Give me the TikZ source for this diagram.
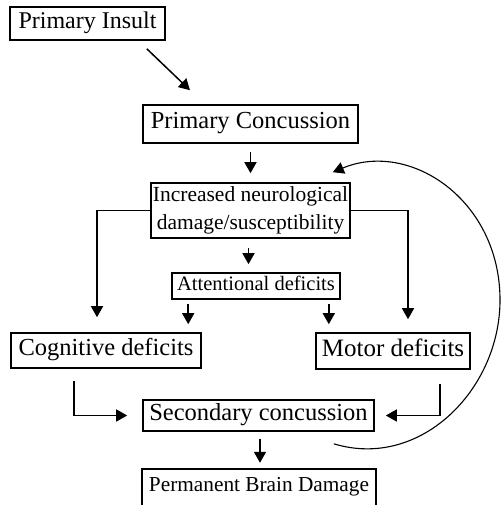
\documentclass[tikz,border=0pt]{standalone}
\usepackage{fontspec}
\setmainfont{Liberation Serif}
\usetikzlibrary{arrows.meta,calc}
\begin{document}
\begin{tikzpicture}[x=1pt,y=-1pt,
  box/.style={draw,line width=1.6pt,inner sep=0pt,align=center},
  arr/.style={line width=1.5pt,-{Triangle[length=11pt,width=12pt]}},
  fs/.style={font=\fontsize{#1}{#1}\selectfont}]
\useasboundingbox[fill=white] (0,0) rectangle (501,505);
\clip (0,0) rectangle (501,505);
\node[box,fs=24,minimum width=155pt,minimum height=33pt] (insult) at (87.5,23.5) {\strut Primary Insult};
\node[box,fs=24.5,minimum width=215pt,minimum height=38pt] (pconc) at (250.5,124) {\strut Primary Concussion};
\node[box,font=\fontsize{21.5}{28}\selectfont,
  minimum width=199pt,minimum height=55pt] (incr) at (250.5,210.5) {Increased neurological\\damage/susceptibility};
\node[box,fs=20.5,minimum width=168pt,minimum height=26pt] (attn) at (256,286) {\strut Attentional deficits};
\node[box,fs=24.5,minimum width=190pt,minimum height=35pt] (cog) at (106,350.5) {\strut Cognitive deficits};
\node[box,fs=25,minimum width=154pt,minimum height=36pt] (motor) at (393,351) {\strut Motor deficits};
\node[box,fs=24.5,minimum width=231pt,minimum height=31pt] (sec) at (258.5,415.5) {\strut Secondary concussion};
\node[inner sep=0pt,fs=21.3,minimum width=234pt,minimum height=36pt] (perm) at (259,487) {\strut Permanent Brain Damage};
\draw[line width=1.6pt] (perm.south west) -- (perm.north west) -- (perm.north east) -- (perm.south east);
% connectors
\draw[arr] ([shift={(-19,8)}]insult.south east) -- ([shift={(-60.5,-14)}]pconc.north);
\draw[arr,shorten <=8pt,shorten >=9pt] (pconc.south) -- (pconc.south |- incr.north);
\draw[arr] (incr.west) -| ([shift={(-9,-15)}]cog.north);
\draw[arr] (incr.east) -| ([shift={(15,-13)}]motor.north);
\draw[arr,shorten <=9pt,shorten >=8pt] ([xshift=-2pt]incr.south) -- ([xshift=-2pt]incr.south |- attn.north);
\draw[arr] ([shift={(17,4)}]attn.south west) -- ([shift={(17,-8)}]attn.south west |- cog.north);
\draw[arr] ([shift={(-12,4)}]attn.south east) -- ([shift={(-12,-8)}]attn.south east |- motor.north);
\draw[arr,shorten >=15pt] ([shift={(-32,12)}]cog.south) |- (sec.west);
\draw[arr,shorten >=11pt] ([shift={(-31,14)}]motor.south east) |- (sec.east);
\draw[arr,shorten <=7pt,shorten >=6pt] ([xshift=1.5pt]sec.south) -- ([xshift=1.5pt]sec.south |- perm.north);
\draw[arr,line width=1.1pt] ([shift={(-41,12)}]sec.south east) .. controls (420,470) and (500,390) .. (500,300)
  .. controls (500,200) and (410,140) .. ([shift={(-18,-10)}]incr.north east);
\end{tikzpicture}
\end{document}
